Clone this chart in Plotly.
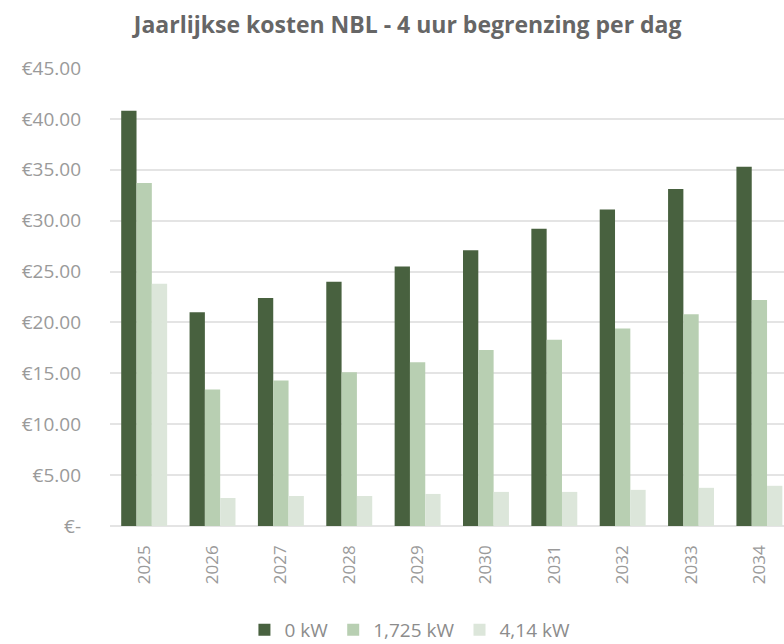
import plotly.graph_objects as go

years = ["2025", "2026", "2027", "2028", "2029", "2030", "2031", "2032", "2033", "2034"]
kw_0 = [40.8, 21.0, 22.4, 24.0, 25.5, 27.1, 29.2, 31.1, 33.1, 35.3]
kw_1725 = [33.7, 13.4, 14.3, 15.1, 16.1, 17.3, 18.3, 19.4, 20.8, 22.2]
kw_414 = [23.8, 2.75, 2.95, 2.95, 3.15, 3.35, 3.35, 3.55, 3.75, 3.95]
series_names = ["0 kW", "1,725 kW", "4,14 kW"]
colors = ["#48613F", "#B8CFB2", "#DCE6DA"]
y_ticks = [0, 5, 10, 15, 20, 25, 30, 35, 40, 45]
y_ticktext = ["€-", "€5.00", "€10.00", "€15.00", "€20.00", "€25.00", "€30.00", "€35.00", "€40.00", "€45.00"]

fig = go.Figure()
for name, vals, col in zip(series_names, [kw_0, kw_1725, kw_414], colors):
    fig.add_trace(go.Bar(x=list(range(len(years))), y=vals, name=name,
                         marker=dict(color=col, line=dict(width=0))))

fig.update_layout(
    width=784, height=644,
    paper_bgcolor="white", plot_bgcolor="white",
    margin=dict(l=110, r=0, t=68, b=118, autoexpand=False),
    barmode="group", bargap=0.328, bargroupgap=0,
    font=dict(family="Open Sans, sans-serif", color="#9A9A9A", size=16),
    title=dict(text="<b>Jaarlijkse kosten NBL - 4 uur begrenzing per dag</b>",
               x=0.52, xanchor="center", y=0.962, yanchor="middle",
               font=dict(size=23, color="#666666", family="Open Sans, sans-serif")),
    showlegend=True,
    legend=dict(orientation="h", x=0.445, xanchor="center", y=-0.227, yanchor="middle",
                font=dict(size=19, color="#8C8C8C"), itemwidth=30, traceorder="normal"),
)
fig.update_xaxes(
    tickmode="array", tickvals=list(range(len(years))), ticktext=years,
    tickangle=-90, range=[-0.5, 9.36], showgrid=False, zeroline=False,
    showline=False, ticks="", ticklabelstandoff=15, automargin=False,
    tickfont=dict(size=17, color="#9A9A9A"),
)
fig.update_yaxes(
    range=[0, 45], tickmode="array", tickvals=y_ticks, ticktext=y_ticktext,
    showgrid=True, gridcolor="#E4E4E4", gridwidth=1.5, zeroline=True,
    zerolinecolor="#E4E4E4", zerolinewidth=1.5, showline=False, ticks="",
    ticklabelstandoff=28, automargin=False, tickfont=dict(size=19, color="#9A9A9A"),
)

fig.write_html("out.html",
               config={"displayModeBar": False},
               post_script="document.body.style.margin='0px';document.body.style.overflow='hidden';"
                           "document.documentElement.style.overflow='hidden';")
